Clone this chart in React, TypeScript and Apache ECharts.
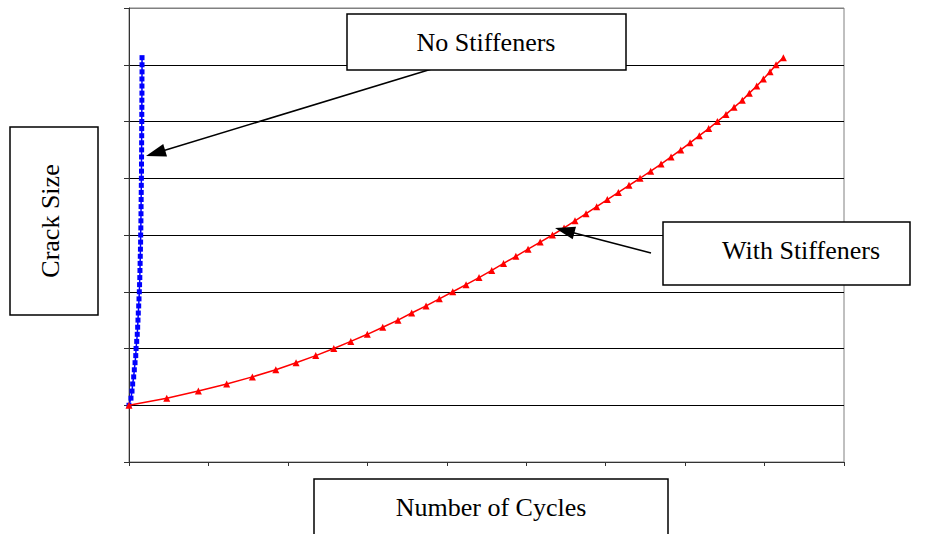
import React, { useEffect, useRef } from "react";
import * as echarts from "echarts";

// Crack size levels (y values) shared by both curves
const crackSize = [
  1, 1.125, 1.25, 1.375, 1.5, 1.625, 1.75, 1.875, 2, 2.125,
  2.25, 2.375, 2.5, 2.625, 2.75, 2.875, 3, 3.125, 3.25, 3.375,
  3.5, 3.625, 3.75, 3.875, 4, 4.125, 4.25, 4.375, 4.5, 4.625,
  4.75, 4.875, 5, 5.125, 5.25, 5.375, 5.5, 5.625, 5.75, 5.875,
  6, 6.125, 6.25, 6.375, 6.5, 6.625, 6.75, 6.875, 7, 7.125,
];

// Number of cycles, no stiffeners
const cyclesNoStiff = [
  0, 0.025, 0.038, 0.046, 0.059, 0.067, 0.076, 0.085, 0.089, 0.097,
  0.104, 0.109, 0.113, 0.117, 0.122, 0.126, 0.13, 0.133, 0.136, 0.138,
  0.14, 0.142, 0.144, 0.146, 0.147, 0.149, 0.15, 0.151, 0.152, 0.153,
  0.154, 0.155, 0.156, 0.157, 0.157, 0.158, 0.159, 0.159, 0.16, 0.16,
  0.161, 0.161, 0.162, 0.162, 0.163, 0.163, 0.163, 0.164, 0.164, 0.164,
];

// Number of cycles, with stiffeners
const cyclesWithStiff = [
  0, 0.475, 0.873, 1.23, 1.553, 1.848, 2.103, 2.351, 2.578, 2.792,
  3.0, 3.194, 3.386, 3.558, 3.739, 3.906, 4.075, 4.243, 4.406, 4.566,
  4.715, 4.87, 5.023, 5.176, 5.33, 5.476, 5.614, 5.753, 5.887, 6.021,
  6.16, 6.294, 6.433, 6.567, 6.697, 6.823, 6.945, 7.062, 7.179, 7.297,
  7.406, 7.515, 7.616, 7.72, 7.808, 7.902, 7.985, 8.069, 8.145, 8.237,
];

const labelNoStiff = "No Stiffeners";
const labelWithStiff = "With Stiffeners";
const labelY = "Crack Size";
const labelX = "Number of Cycles";

const FONT = "'Liberation Serif', 'Times New Roman', serif";

function arrow(sx: number, sy: number, tx: number, ty: number) {
  const dx = tx - sx;
  const dy = ty - sy;
  const len = Math.sqrt(dx * dx + dy * dy);
  const ux = dx / len;
  const uy = dy / len;
  const L = 20;
  const w = 6.5;
  const bx = tx - ux * L;
  const by = ty - uy * L;
  const nx = -uy;
  const ny = ux;
  return [
    {
      type: "line",
      shape: { x1: sx, y1: sy, x2: bx + ux * 2, y2: by + uy * 2 },
      style: { stroke: "#000", lineWidth: 1.5 },
      z: 100,
    },
    {
      type: "polygon",
      shape: {
        points: [
          [tx, ty],
          [bx + nx * w, by + ny * w],
          [bx - nx * w, by - ny * w],
        ],
      },
      style: { fill: "#000" },
      z: 100,
    },
  ];
}

function box(x: number, y: number, w: number, h: number) {
  return {
    type: "rect",
    shape: { x, y, width: w, height: h },
    style: { fill: "#fff", stroke: "#000", lineWidth: 1.5 },
    z: 100,
  };
}

function label(text: string, x: number, y: number, rotation = 0) {
  return {
    type: "text",
    x,
    y,
    rotation,
    style: {
      text,
      fill: "#000",
      font: `26px ${FONT}`,
      align: "center",
      verticalAlign: "middle",
    },
    z: 101,
  };
}

export default function App() {
  const ref = useRef<HTMLDivElement>(null);

  useEffect(() => {
    if (!ref.current) return;
    const chart = echarts.init(ref.current, undefined, { renderer: "svg" });

    const splitColors = ["#000", "#000", "#000", "#000", "#000", "#000", "#000", "#000", "#808080"];

    chart.setOption({
      animation: false,
      backgroundColor: "#fff",
      grid: {
        left: 129,
        top: 8,
        right: 83,
        bottom: 72,
        show: true,
        borderColor: "#808080",
        borderWidth: 1,
        backgroundColor: "transparent",
      },
      xAxis: {
        type: "value",
        min: 0,
        max: 9,
        interval: 1,
        axisLine: { show: true, onZero: false, lineStyle: { color: "#333", width: 1 } },
        axisTick: { show: true, length: 4, lineStyle: { color: "#333" } },
        axisLabel: { show: false },
        splitLine: { show: false },
      },
      yAxis: {
        type: "value",
        min: 0,
        max: 8,
        interval: 1,
        axisLine: { show: true, onZero: false, lineStyle: { color: "#333", width: 1 } },
        axisTick: { show: true, length: 5, lineStyle: { color: "#333" } },
        axisLabel: { show: false },
        splitLine: { show: true, lineStyle: { color: splitColors, width: 1 } },
      },
      series: [
        {
          name: labelNoStiff,
          type: "line",
          data: cyclesNoStiff.map((c, i) => [c, crackSize[i]]),
          symbol: "rect",
          symbolSize: 5,
          lineStyle: { color: "#0000ff", width: 1.5 },
          itemStyle: { color: "#0000ff" },
          z: 2,
        },
        {
          name: labelWithStiff,
          type: "line",
          data: cyclesWithStiff.map((c, i) => [c, crackSize[i]]),
          symbol: "triangle",
          symbolSize: 7,
          lineStyle: { color: "#ff0000", width: 1.5 },
          itemStyle: { color: "#ff0000" },
          z: 3,
        },
      ],
      graphic: [
        ...arrow(435, 68, 146, 156),
        ...arrow(651, 253, 555, 228),
        box(347, 14, 279, 56),
        label(labelNoStiff, 486, 42),
        box(663, 222, 247, 63),
        label(labelWithStiff, 801, 250),
        box(10, 127, 88, 188),
        label(labelY, 50, 221, Math.PI / 2),
        box(314, 479, 354, 80),
        label(labelX, 491, 507),
      ],
    });

    return () => chart.dispose();
  }, []);

  return (
    <div
      ref={ref}
      style={{ position: "fixed", left: 0, top: 0, width: 927, height: 534, background: "#fff" }}
    />
  );
}
